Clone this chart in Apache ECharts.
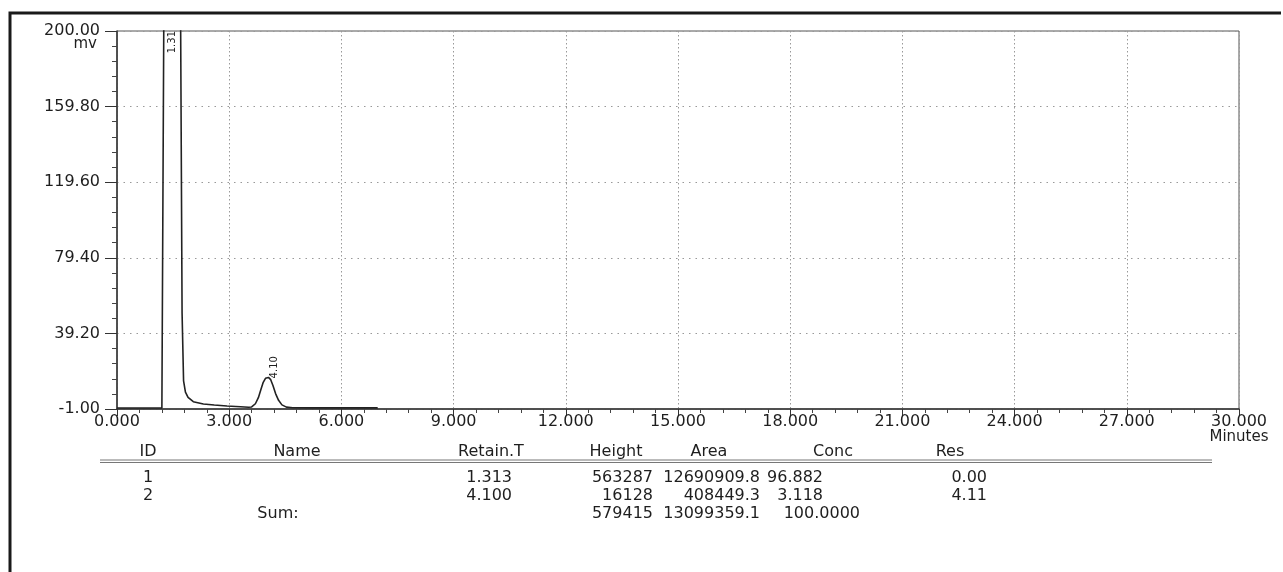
<!DOCTYPE html>
<html>
<head>
<meta charset="utf-8">
<title>Chromatogram</title>
<script src="https://cdn.jsdelivr.net/npm/echarts@6.0.0/dist/echarts.min.js"></script>
<style>
  html, body { margin: 0; padding: 0; background: #fff; }
  #main { width: 1283px; height: 572px; }
</style>
</head>
<body>
<div id="main"></div>
<script>
// detector trace, time in minutes / signal in mV
const times  = [0, 0.50, 1.00, 1.20, 1.22, 1.25, 1.28, 1.313, 1.45, 1.60, 1.70, 1.74, 1.78, 1.83, 1.90, 2.04, 2.31, 2.60, 2.94, 3.30, 3.52, 3.60, 3.70, 3.78, 3.85, 3.91, 3.97, 4.05, 4.11, 4.17, 4.24, 4.32, 4.41, 4.53, 4.70, 5.20, 6.00, 6.97]
const signal = [-0.5, -0.5, -0.5, -0.5, -0.4, 200, 420, 563, 470, 320, 210, 50, 14, 8.0, 5.2, 2.9, 1.7, 1.1, 0.6, 0.2, -0.1, 0.1, 1.8, 5.0, 9.5, 13.2, 15.3, 15.8, 14.6, 11.5, 7.2, 3.6, 1.2, 0.0, -0.3, -0.4, -0.4, -0.4]

// retention labels written over the peaks
const peakTimes  = [1.313, 4.100]
const peakLabels = ['1.31', '4.10']

// axis ticks
const xTicks = { min: 0, max: 30, step: 3 }
const yTicks = { min: -1, max: 200, step: 40.2 }

// result table
const tableHeader = ['ID', 'Name', 'Retain.T', 'Height', 'Area', 'Conc', 'Res']
const tableRows = [
    ['1', '', '1.313', '563287', '12690909.8', '96.882', '0.00'],
    ['2', '', '4.100', '16128', '408449.3', '3.118', '4.11']
]
const sumRow = ['', 'Sum:', '', '579415', '13099359.1', '100.0000', '']

// ECharts starts interval ticks from a multiple of the step, so the
// axis runs from 0 and the labels are shifted back by the offset
const yOffset = -yTicks.min

const textFont = 'DejaVu Sans'
const ink = '#1e1e1e'

// column layout of the table (x anchors)
const headX = [148, 297, 491, 616, 709, 833, 950]
const cellX = [148, 297, 512, 653, 760, 823, 987]
const cellAlign = ['center', 'center', 'right', 'right', 'right', 'right', 'right']
const sumX = [148, 278, 512, 653, 760, 860, 987]
const headY = 452
const rowY = [478, 496]
const sumY = 514

const chart = echarts.init(document.getElementById('main'))

const txt = (text, x, y, align) => ({
    type: 'text',
    x: x,
    y: y,
    silent: true,
    style: {
        text: text,
        fontFamily: textFont,
        fontSize: 16,
        fill: ink,
        align: align,
        verticalAlign: 'middle',
        textAlign: align,
        textVerticalAlign: 'middle'
    }
})

const tableEls = []
tableHeader.forEach((h, i) => tableEls.push(txt(h, headX[i], headY, 'center')))
tableRows.forEach((row, r) => {
    row.forEach((c, i) => {
        if (c) tableEls.push(txt(c, cellX[i], rowY[r], cellAlign[i]))
    })
})
sumRow.forEach((c, i) => {
    if (c) tableEls.push(txt(c, sumX[i], sumY, i === 1 ? 'center' : cellAlign[i]))
})

const option = {
    animation: false,
    backgroundColor: '#fff',
    grid: {
        left: 117,
        right: 44,
        top: 31,
        bottom: 163,
        outerBoundsMode: 'none',
        show: true,
        borderColor: '#555',
        borderWidth: 1,
        backgroundColor: 'transparent'
    },
    xAxis: {
        type: 'value',
        min: xTicks.min,
        max: xTicks.max,
        interval: xTicks.step,
        name: 'Minutes',
        nameLocation: 'end',
        nameGap: 0,
        nameMoveOverlap: false,
        nameTextStyle: {
            fontFamily: textFont,
            fontSize: 15,
            color: ink,
            align: 'center',
            verticalAlign: 'top',
            padding: [21, 0, 0, 0]
        },
        axisLine: { show: true, lineStyle: { color: '#333', width: 1.5 } },
        axisTick: { show: true, length: 7, lineStyle: { color: '#333' } },
        minorTick: { show: true, splitNumber: 5, length: 4, lineStyle: { color: '#444' } },
        axisLabel: {
            margin: 5,
            fontFamily: textFont,
            fontSize: 16,
            color: ink,
            formatter: v => v.toFixed(3)
        },
        splitLine: {
            show: true,
            lineStyle: { color: '#999', type: [1.5, 2.5], width: 1 }
        }
    },
    yAxis: {
        type: 'value',
        min: 0,
        max: yTicks.max + yOffset,
        interval: yTicks.step,
        name: 'mv',
        nameLocation: 'end',
        nameGap: -13,
        nameMoveOverlap: false,
        nameTextStyle: {
            fontFamily: textFont,
            fontSize: 15,
            color: ink,
            align: 'right',
            verticalAlign: 'middle',
            padding: [0, 20, 0, 0]
        },
        axisLine: { show: true, lineStyle: { color: '#333', width: 1.5 } },
        axisTick: { show: true, length: 12, lineStyle: { color: '#333' } },
        minorTick: { show: true, splitNumber: 5, length: 5, lineStyle: { color: '#444' } },
        axisLabel: {
            margin: 17,
            fontFamily: textFont,
            fontSize: 16,
            color: ink,
            formatter: v => (v - yOffset).toFixed(2)
        },
        splitLine: {
            show: true,
            lineStyle: { color: '#999', type: [1.5, 5], width: 1 }
        }
    },
    series: [{
        type: 'line',
        data: times.map((t, i) => [t, signal[i] + yOffset]),
        symbol: 'none',
        clip: true,
        lineStyle: { color: '#222', width: 1.6 },
        markPoint: {
            symbol: 'circle',
            symbolSize: 0,
            silent: true,
            label: {
                show: true,
                position: 'inside',
                rotate: 90,
                fontFamily: textFont,
                fontSize: 10,
                color: ink,
                formatter: p => p.value
            },
            // offsets are in the rotated frame of the label
            data: [
                {
                    coord: [peakTimes[0], yTicks.max + yOffset],
                    value: peakLabels[0],
                    label: { align: 'right', verticalAlign: 'middle', offset: [0, 6] }
                },
                {
                    coord: [peakTimes[1], Math.max(...signal.slice(20)) + yOffset],
                    value: peakLabels[1],
                    label: { align: 'left', verticalAlign: 'middle', offset: [-1, 4] }
                }
            ]
        }
    }],
    graphic: [
        // page frame
        {
            type: 'polyline',
            silent: true,
            shape: { points: [[10, 572], [10, 13], [1281, 13]] },
            style: { stroke: '#1a1a1a', lineWidth: 3, fill: null }
        },
        // double rule under the table header
        {
            type: 'line',
            silent: true,
            shape: { x1: 100, y1: 460, x2: 1212, y2: 460 },
            style: { stroke: '#777', lineWidth: 1 }
        },
        {
            type: 'line',
            silent: true,
            shape: { x1: 100, y1: 462.5, x2: 1212, y2: 462.5 },
            style: { stroke: '#777', lineWidth: 1 }
        }
    ].concat(tableEls)
}

chart.setOption(option)
</script>
</body>
</html>
